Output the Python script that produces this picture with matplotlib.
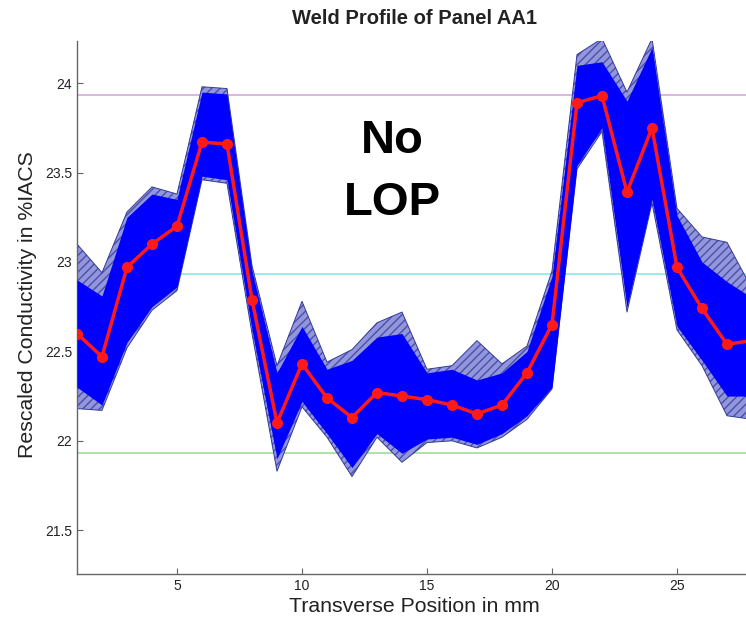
import numpy as np
import matplotlib
matplotlib.use('Agg')
import matplotlib.pyplot as plt

plt.rcParams['font.family'] = ['Liberation Sans', 'DejaVu Sans']

# transverse positions (mm)
pos = np.arange(1, 29)

# mean profile (red)
mean_profile = [22.60, 22.47, 22.97, 23.10, 23.20, 23.67, 23.66, 22.79, 22.10, 22.43,
                22.24, 22.13, 22.27, 22.25, 22.23, 22.20, 22.15, 22.20, 22.38, 22.65,
                23.89, 23.93, 23.39, 23.75, 22.97, 22.74, 22.54, 22.56]

# envelope of the simulated profiles (blue bundle)
outer_hi = [23.10, 22.94, 23.28, 23.42, 23.38, 23.98, 23.97, 22.98, 22.42, 22.78,
            22.44, 22.51, 22.66, 22.72, 22.40, 22.42, 22.56, 22.43, 22.53, 22.95,
            24.16, 24.25, 23.95, 24.25, 23.30, 23.14, 23.11, 22.85]
core_hi = [22.90, 22.81, 23.25, 23.38, 23.35, 23.95, 23.94, 22.95, 22.38, 22.64,
           22.40, 22.45, 22.58, 22.60, 22.38, 22.40, 22.34, 22.38, 22.50, 22.92,
           24.10, 24.12, 23.90, 24.20, 23.26, 23.00, 22.89, 22.80]
core_lo = [22.30, 22.20, 22.55, 22.75, 22.86, 23.48, 23.46, 22.62, 21.90, 22.22,
           22.04, 21.85, 22.04, 21.93, 22.01, 22.02, 21.98, 22.04, 22.14, 22.30,
           23.54, 23.75, 22.75, 23.35, 22.64, 22.45, 22.25, 22.25]
outer_lo = [22.18, 22.17, 22.52, 22.73, 22.84, 23.46, 23.44, 22.60, 21.83, 22.19,
            22.02, 21.80, 22.02, 21.88, 21.99, 22.00, 21.96, 22.02, 22.12, 22.29,
            23.52, 23.73, 22.72, 23.33, 22.62, 22.42, 22.14, 22.12]

# reference levels
levels = [23.934, 22.934, 21.934]
level_colors = ['#d8a8dc', '#8fe6e6', '#a0dca0']

fig = plt.figure(figsize=(7.46, 6.21), dpi=100)
ax = fig.add_axes([0.1032, 0.0757, 0.8968, 0.858])

for lv, c in zip(levels, level_colors):
    ax.axhline(lv, color=c, lw=1.2, zorder=1)

ax.fill_between(pos, outer_lo, outer_hi, facecolor='#9296dc', edgecolor='#4a4fa8',
                hatch='////', lw=0, zorder=2)
ax.plot(pos, outer_hi, color='#343a98', lw=0.7, zorder=2)
ax.plot(pos, outer_lo, color='#343a98', lw=0.7, zorder=2)
ax.fill_between(pos, core_lo, core_hi, color='#0000ff', lw=0, zorder=3)

ax.plot(pos, mean_profile, color='#ff1a1a', lw=2.5, marker='o', ms=7,
        mec='#ff1a1a', mfc='#ff1a1a', zorder=4)

ax.set_xlim(1, 27.76)
ax.set_ylim(21.255, 24.235)
ax.set_xticks([5, 10, 15, 20, 25])
ax.set_yticks([21.5, 22, 22.5, 23, 23.5, 24])
ax.set_yticklabels(['21.5', '22', '22.5', '23', '23.5', '24'])

for s in ['top', 'right']:
    ax.spines[s].set_visible(False)
for s in ['left', 'bottom']:
    ax.spines[s].set_color('#666666')
    ax.spines[s].set_linewidth(1.0)
ax.tick_params(direction='in', length=4, color='#666666', labelcolor='#222222',
               labelsize=10)

ax.text(0.471, 0.79, 'No', transform=ax.transAxes, ha='center', va='baseline',
        fontsize=34, fontweight='bold')
ax.text(0.471, 0.674, 'LOP', transform=ax.transAxes, ha='center', va='baseline',
        fontsize=34, fontweight='bold')

fig.text(0.555, 0.971, 'Weld Profile of Panel AA1', ha='center', va='center',
         fontsize=14.5, fontweight='bold', color='#222222')
fig.text(0.556, 0.024, 'Transverse Position in mm', ha='center', va='center',
         fontsize=15.3, color='#222222')
fig.text(0.0375, 0.509, 'Rescaled Conductivity in %IACS', ha='center', va='center',
         rotation=90, fontsize=15.3, color='#222222')

fig.savefig('out.png', dpi=100)
